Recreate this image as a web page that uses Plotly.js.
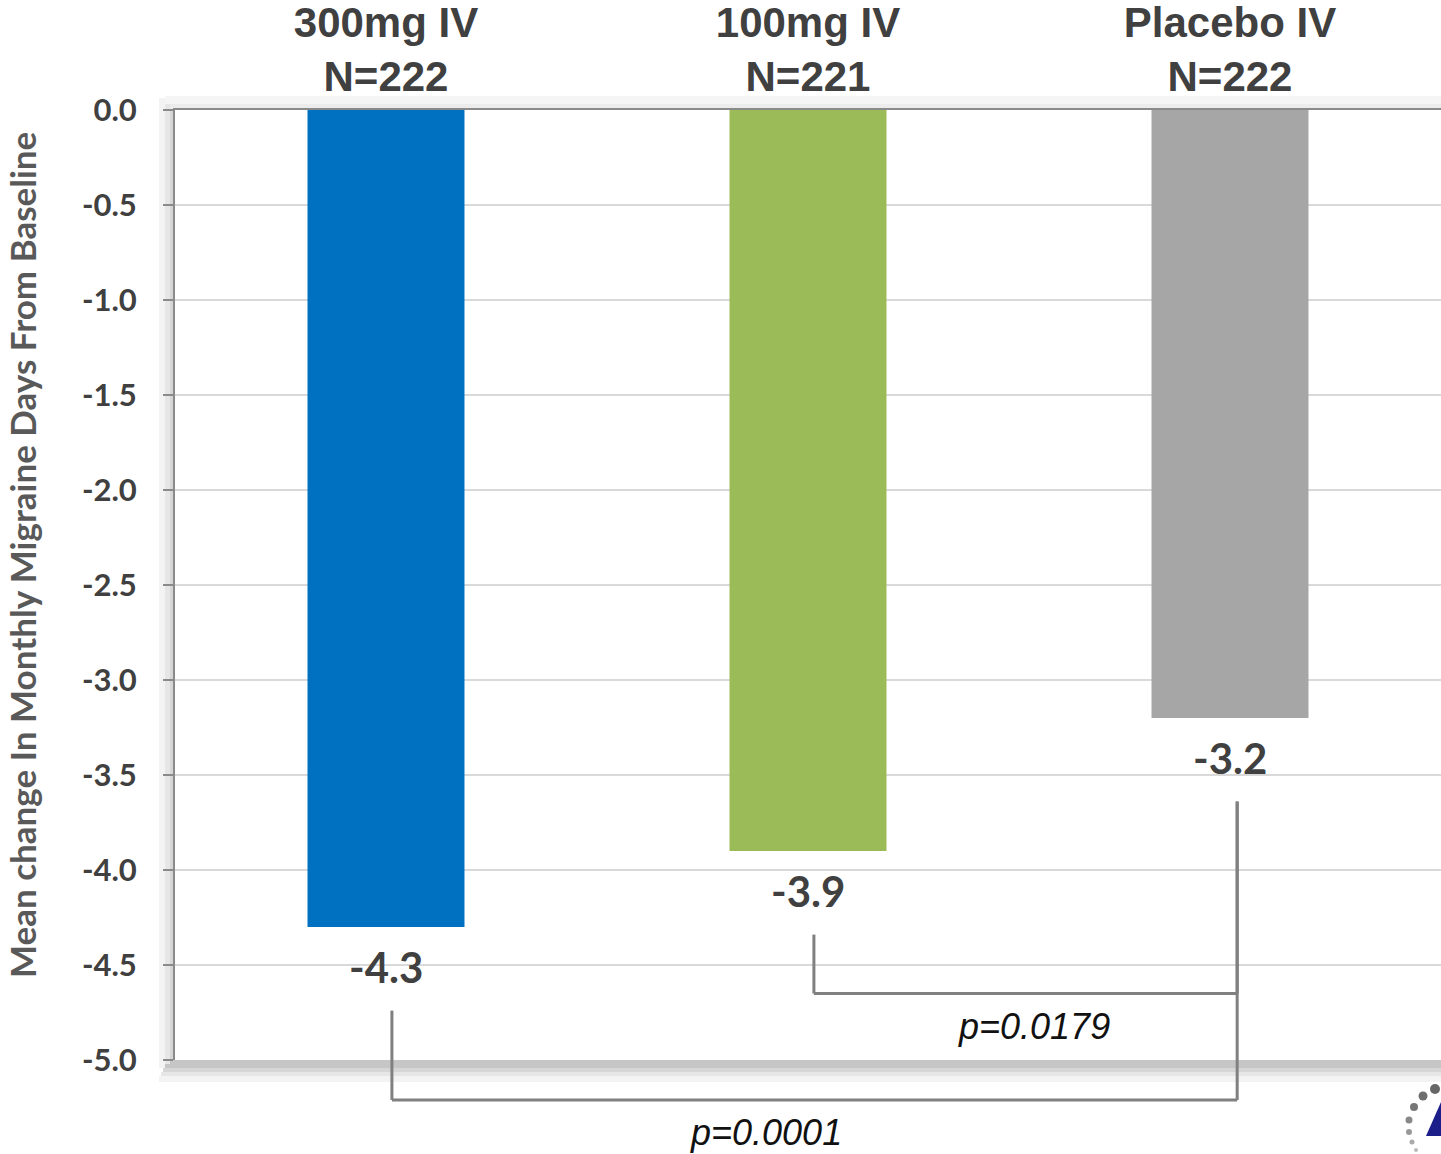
<!DOCTYPE html>
<html>
<head>
<meta charset="utf-8">
<script src="https://cdn.plot.ly/plotly-3.0.1.min.js"></script>
<style>html,body{margin:0;padding:0;background:#fff;}#chart{width:1441px;height:1154px;}</style>
</head>
<body>
<div id="chart"></div>
<script>
// ---- data ----
const groups = ["300mg IV", "100mg IV", "Placebo IV"];
const sampleSizes = ["N=222", "N=221", "N=222"];
const meanChange = [-4.3, -3.9, -3.2];
const barColors = ["#0070C0", "#9BBB59", "#A6A6A6"];
const yTickVals = [0, -0.5, -1, -1.5, -2, -2.5, -3, -3.5, -4, -4.5, -5];
const yTickText = ["0.0", "-0.5", "-1.0", "-1.5", "-2.0", "-2.5", "-3.0", "-3.5", "-4.0", "-4.5", "-5.0"];
const comparisons = [
  {from: 1, to: 2, p: "p=0.0179"},
  {from: 0, to: 2, p: "p=0.0001"}
];
const yTitle = "Mean change In Monthly Migraine Days From Baseline";

// ---- layout helpers ----
const yMin = -5, yMax = 0;
const toPaper = v => (v - yMin) / (yMax - yMin);
const catLabels = groups.map((g, i) => g + "<br>" + sampleSizes[i]);
const pw = 1266, ph = 950;               // plot area size in px
const px = d => d / pw, py = d => d / ph; // px offsets -> paper units

const trace = {
  type: "bar",
  x: catLabels,
  y: meanChange,
  marker: {color: barColors, line: {width: 0}},
  width: 0.372,
  hoverinfo: "skip"
};

const annotations = [];
// value labels below bars
meanChange.forEach((v, i) => {
  annotations.push({
    x: catLabels[i], y: toPaper(v), xref: "x", yref: "paper",
    text: v.toFixed(1), showarrow: false, yanchor: "top", yshift: -13,
    font: {family: "Lato", size: 42, color: "#404040", weight: 700}
  });
});

// y-axis title as rotated annotation
annotations.push({
  x: px(22 - 175), y: py(1060 - 555), xref: "paper", yref: "paper",
  text: yTitle, textangle: -90, showarrow: false, xanchor: "center", yanchor: "middle",
  font: {family: "Lato", size: 35, color: "#595959", weight: 700}
});

// brackets
const lineColor = "#808080";
const gapBelowValue = 0.44;
const bracketLevels = [-4.65, -5.21];
const shapes = [];
comparisons.forEach((c, k) => {
  const level = bracketLevels[k];
  const x0 = c.from + 0.014;
  const x1 = c.to + 0.017;
  const y0 = toPaper(meanChange[c.from] - gapBelowValue);
  const yl = toPaper(level);
  const y1 = toPaper(meanChange[c.to] - gapBelowValue);
  shapes.push({type: "line", xref: "x", yref: "paper", x0: x0, x1: x0, y0: y0, y1: yl, line: {color: lineColor, width: 3}});
  shapes.push({type: "line", xref: "x", yref: "paper", x0: x0, x1: x1, y0: yl, y1: yl, line: {color: lineColor, width: 3}});
  shapes.push({type: "line", xref: "x", yref: "paper", x0: x1, x1: x1, y0: y1, y1: yl, line: {color: lineColor, width: 3}});
});
// p-value labels
const pPos = [{x: 1.535, y: -4.826}, {x: 0.90, y: -5.384}];
comparisons.forEach((c, k) => {
  annotations.push({
    x: pPos[k].x, y: toPaper(pPos[k].y), xref: "x", yref: "paper",
    text: c.p, showarrow: false, xanchor: "center", yanchor: "middle",
    font: {family: "Liberation Sans", size: 36, color: "#111", style: "italic"}
  });
});

// soft 3D-like shadows around plot area
const shadowRects = [
  {x0: px(-10), x1: 1, y0: py(-8), y1: 0, c: "#c6c6c6"},
  {x0: px(-12), x1: 1, y0: py(-12), y1: py(-8), c: "#d6d6d6"},
  {x0: px(-14), x1: 1, y0: py(-16), y1: py(-12), c: "#e6e6e6"},
  {x0: px(-16), x1: 1, y0: py(-22), y1: py(-16), c: "#f3f3f3"},
  {x0: px(-5), x1: 0, y0: 0, y1: py(955), c: "#d6d6d6"},
  {x0: px(-10), x1: px(-5), y0: py(-4), y1: py(958), c: "#e6e6e6"},
  {x0: px(-16), x1: px(-10), y0: py(-8), y1: py(962), c: "#f3f3f3"},
  {x0: px(-5), x1: 1, y0: 1, y1: py(956), c: "#ececec"},
  {x0: px(-10), x1: 1, y0: py(956), y1: py(964), c: "#f5f5f5"}
];
shadowRects.forEach(r => {
  shapes.push({type: "rect", xref: "paper", yref: "paper", x0: r.x0, x1: r.x1, y0: r.y0, y1: r.y1,
    fillcolor: r.c, line: {width: 0}, layer: "below"});
});

// partial logo at bottom-right corner (decoration)
const toPX = X => px(X - 175), toPY = Y => py(1060 - Y);
const logoDots = [[1435, 1089, 5, "#666"], [1423, 1096, 4.5, "#6e6e6e"], [1414, 1107, 4, "#777"],
  [1409, 1120, 3.5, "#888"], [1409, 1132, 3, "#999"], [1412, 1142, 2.5, "#aaa"], [1416, 1150, 2, "#bbb"]];
logoDots.forEach(d => {
  shapes.push({type: "circle", xref: "paper", yref: "paper",
    x0: toPX(d[0] - d[2]), x1: toPX(d[0] + d[2]), y0: toPY(d[1] + d[2]), y1: toPY(d[1] - d[2]),
    fillcolor: d[3], line: {width: 0}});
});
shapes.push({type: "path", xref: "paper", yref: "paper",
  path: "M " + toPX(1426) + " " + toPY(1136) + " L " + toPX(1441) + " " + toPY(1102) +
        " L " + toPX(1441) + " " + toPY(1136) + " Z",
  fillcolor: "#1c1f8a", line: {width: 0}});

const layout = {
  width: 1441, height: 1154,
  margin: {l: 175, r: 0, t: 110, b: 94, pad: 0},
  paper_bgcolor: "#ffffff",
  plot_bgcolor: "#ffffff",
  showlegend: false,
  bargap: 0.628,
  xaxis: {
    side: "top",
    type: "category",
    range: [-0.5, 2.5],
    showline: true, linecolor: "#8a8a8a", linewidth: 2,
    ticks: "", showgrid: false, zeroline: false,
    ticklabelstandoff: 0,
    tickfont: {family: "Liberation Sans", size: 42, color: "#404040", weight: 700},
    fixedrange: true
  },
  yaxis: {
    range: [yMin, yMax],
    tickvals: yTickVals, ticktext: yTickText,
    showline: true, linecolor: "#8a8a8a", linewidth: 2,
    ticks: "outside", ticklen: 10, tickcolor: "#8a8a8a", tickwidth: 2,
    ticklabelstandoff: 20,
    showgrid: true, gridcolor: "#d9d9d9", gridwidth: 2,
    zeroline: false,
    tickfont: {family: "Lato", size: 31, color: "#404040", weight: 700},
    fixedrange: true
  },
  annotations: annotations,
  shapes: shapes
};

Plotly.newPlot("chart", [trace], layout, {displayModeBar: false, staticPlot: true});
</script>
</body>
</html>
